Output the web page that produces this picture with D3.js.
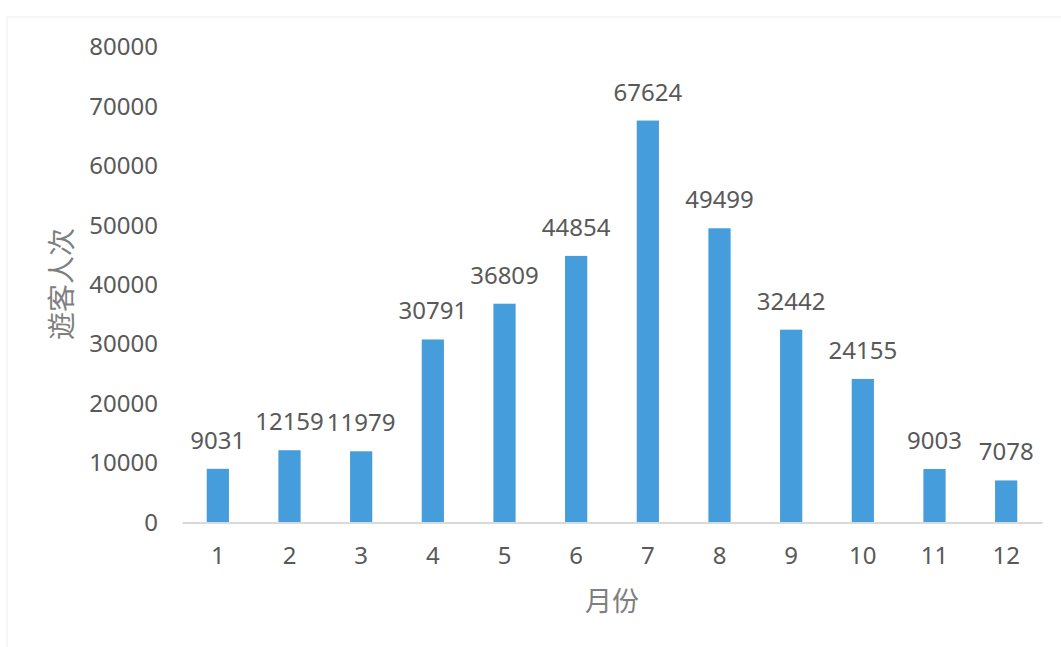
<!DOCTYPE html>
<html lang="zh">
<head>
    <meta charset="UTF-8">
    <title>遊客人次</title>
    <script src="https://d3js.org/d3.v7.min.js"></script>
    <style>
        body { margin: 0; background: #fff; }
        text { font-family: "Noto Sans", "Open Sans", sans-serif; fill: #595959; }
        .cjk { font-family: "Noto Sans CJK TC", "Noto Sans CJK SC", sans-serif; fill: #7f7f7f; }
    </style>
</head>
<body>
<svg width="1061" height="647"></svg>
<script>
    // data
    const months = ["1", "2", "3", "4", "5", "6", "7", "8", "9", "10", "11", "12"];
    const visitors = [9031, 12159, 11979, 30791, 36809, 44854, 67624, 49499, 32442, 24155, 9003, 7078];
    const yTicks = [0, 10000, 20000, 30000, 40000, 50000, 60000, 70000, 80000];

    const svg = d3.select("svg");

    // faint frame round the chart area
    svg.append("rect")
        .attr("x", 7).attr("y", 17)
        .attr("width", 1070).attr("height", 700)
        .attr("fill", "none")
        .attr("stroke", "#ededed");

    const x = d3.scaleBand()
        .domain(months)
        .range([182, 1042])
        .paddingInner(0.69)
        .paddingOuter(0.345);

    const y = d3.scaleLinear()
        .domain([0, 80000])
        .range([522.5, 47]);

    // y tick labels
    svg.append("g")
        .attr("transform", "translate(158,0)")
        .call(d3.axisLeft(y).tickValues(yTicks).tickSize(0).tickPadding(0).tickFormat(d3.format("d")))
        .call(g => g.select(".domain").remove())
        .selectAll("text")
        .attr("font-size", 24)
        .attr("fill", "#595959");

    // bars
    svg.append("g")
        .selectAll("rect")
        .data(visitors)
        .join("rect")
        .attr("x", (d, i) => x(months[i]))
        .attr("y", d => y(d))
        .attr("width", x.bandwidth())
        .attr("height", d => y(0) - y(d))
        .attr("fill", "#459ddb");

    // value labels
    svg.append("g")
        .selectAll("text")
        .data(visitors)
        .join("text")
        .attr("x", (d, i) => x(months[i]) + x.bandwidth() / 2)
        .attr("y", d => y(d) - 20)
        .attr("text-anchor", "middle")
        .attr("font-size", 24)
        .text(d => d);

    // x axis
    svg.append("g")
        .attr("transform", `translate(0,${y(0)})`)
        .call(d3.axisBottom(x).tickSize(0).tickPadding(24))
        .call(g => g.select(".domain").attr("stroke", "#d9d9d9").attr("stroke-width", 2))
        .selectAll("text")
        .attr("font-size", 24)
        .attr("fill", "#595959");

    // axis titles
    svg.append("text")
        .attr("class", "cjk")
        .attr("x", 612).attr("y", 611)
        .attr("text-anchor", "middle")
        .attr("font-size", 27)
        .text("月份");

    svg.append("text")
        .attr("class", "cjk")
        .attr("transform", "translate(72,284) rotate(-90)")
        .attr("text-anchor", "middle")
        .attr("font-size", 28)
        .text("遊客人次");
</script>
</body>
</html>
